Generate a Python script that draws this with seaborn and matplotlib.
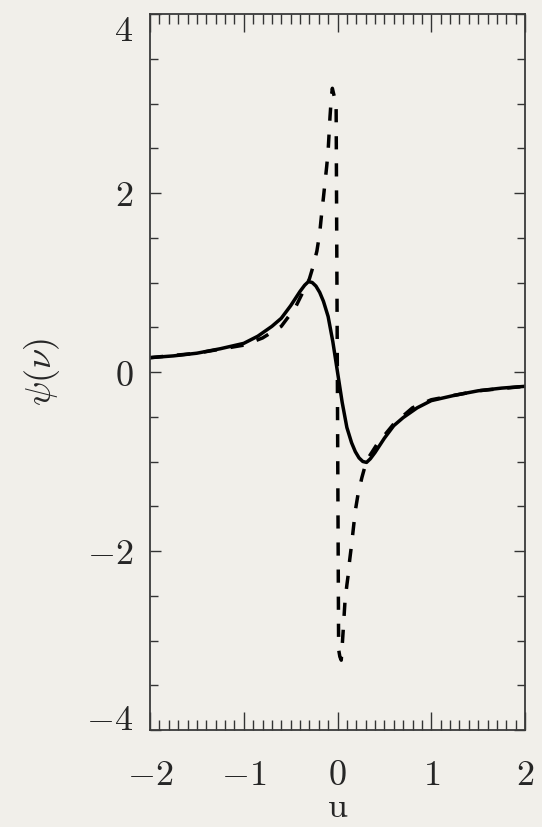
import numpy as np
import pandas as pd
import matplotlib
matplotlib.use("Agg")
import matplotlib.pyplot as plt
from matplotlib.ticker import MultipleLocator
import seaborn as sns

# values
u_solid = [-2.0, -1.75, -1.5, -1.25, -1.0, -0.85, -0.7, -0.6, -0.5, -0.45, -0.4,
           -0.35, -0.31, -0.27, -0.23, -0.19, -0.15, -0.1, -0.05, 0.0,
           0.05, 0.1, 0.15, 0.19, 0.23, 0.27, 0.31, 0.35, 0.4, 0.45, 0.5,
           0.6, 0.7, 0.85, 1.0, 1.25, 1.5, 1.75, 2.0]
psi_solid = [0.16, 0.18, 0.21, 0.26, 0.32, 0.40, 0.51, 0.60, 0.74, 0.82, 0.90,
             0.97, 1.01, 1.00, 0.96, 0.89, 0.79, 0.62, 0.34, 0.0,
             -0.34, -0.62, -0.79, -0.89, -0.96, -1.00, -1.01, -0.97, -0.90, -0.82, -0.74,
             -0.60, -0.51, -0.40, -0.32, -0.26, -0.21, -0.18, -0.16]

u_dash = [-2.0, -1.5, -1.0, -0.8, -0.6, -0.45, -0.3, -0.26, -0.22, -0.19, -0.17,
          -0.15, -0.13, -0.115, -0.1, -0.08, -0.065, -0.055, -0.035, -0.015,
          0.012, 0.025, 0.04, 0.06, 0.08, 0.1, 0.115, 0.13, 0.15, 0.17, 0.19,
          0.22, 0.26, 0.31, 0.42, 0.6, 0.8, 1.0, 1.5, 2.0]
psi_dash = [0.16, 0.21, 0.30, 0.38, 0.51, 0.72, 1.04, 1.18, 1.35, 1.55, 1.76,
            1.95, 2.15, 2.30, 2.47, 2.85, 3.08, 3.17, 3.08, 3.05,
            -3.10, -3.18, -3.22, -2.90, -2.56, -2.38, -2.26, -2.10, -1.93, -1.74, -1.55,
            -1.36, -1.18, -0.99, -0.81, -0.58, -0.40, -0.31, -0.21, -0.16]

xticks = [-2, -1, 0, 1, 2]
xtick_labels = [r'$-2$', r'$-1$', r'$0$', r'$1$', r'$2$']
yticks = [-4, -2, 0, 2, 4]
ytick_labels = [r'$-4$', r'$-2$', r'$0$', r'$2$', r'$4$']

bg = '#f1efea'
sns.set_theme(style="ticks")
plt.rcParams['font.family'] = ['DejaVu Serif']
plt.rcParams['mathtext.fontset'] = 'cm'
plt.rcParams['figure.facecolor'] = bg
plt.rcParams['axes.facecolor'] = bg

df_solid = pd.DataFrame({'u': u_solid, 'psi': psi_solid})
df_dash = pd.DataFrame({'u': u_dash, 'psi': psi_dash})

fig = plt.figure(figsize=(5.42, 8.27), dpi=100)
ax = fig.add_axes([150/542, 97/827, 375/542, 716/827])

sns.lineplot(data=df_solid, x='u', y='psi', ax=ax, color='black', lw=2.5,
             sort=False, estimator=None)
sns.lineplot(data=df_dash, x='u', y='psi', ax=ax, color='black', lw=2.5,
             sort=False, estimator=None)
ax.lines[1].set_dashes((3.8, 4.0))

ax.set_xlim(-2, 2)
ax.set_ylim(-4, 4)
ax.set_xticks(xticks)
ax.set_xticklabels(xtick_labels)
ax.set_yticks(yticks)
ax.set_yticklabels(ytick_labels)
ax.xaxis.set_minor_locator(MultipleLocator(0.1))
ax.yaxis.set_minor_locator(MultipleLocator(0.5))

ax.tick_params(which='both', direction='in', top=True, right=True,
               color='#333333', width=1.0, labelsize=26)
ax.tick_params(axis='x', which='major', length=13, pad=20)
ax.tick_params(axis='x', which='minor', length=7)
ax.tick_params(axis='y', which='major', length=8, pad=12)
ax.tick_params(axis='y', which='minor', length=6)

for lab in ax.get_yticklabels():
    if lab.get_text() == r'$4$':
        lab.set_va('top')
    elif lab.get_text() == r'$-4$':
        lab.set_va('baseline')
    else:
        lab.set_va('center_baseline')

for sp in ax.spines.values():
    sp.set_color('#3a3a3a')
    sp.set_linewidth(1.3)

ax.set_xlabel(r'$\mathrm{u}$', fontsize=26)
ax.set_ylabel(r'$\psi(\nu)$', fontsize=26)
ax.xaxis.set_label_coords(0.5, -0.084)
ax.yaxis.set_label_coords(-0.235, 0.5)

fig.savefig('out.png', dpi=100, facecolor=bg)
